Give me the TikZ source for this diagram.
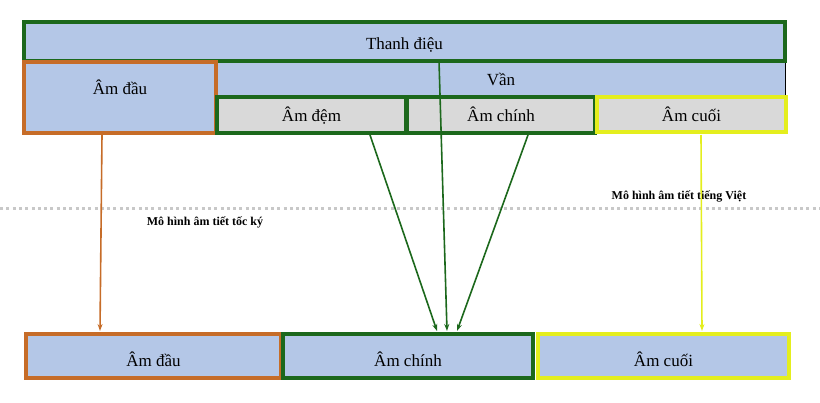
\documentclass[tikz,border=0pt]{standalone}
\usepackage{fontspec}
\setmainfont{Liberation Serif}
\usetikzlibrary{arrows.meta}
\definecolor{boxblue}{RGB}{180,199,231}
\definecolor{boxgrey}{RGB}{217,217,217}
\definecolor{dgreen}{RGB}{28,104,28}
\definecolor{orng}{RGB}{198,108,40}
\definecolor{yel}{RGB}{228,238,30}
\definecolor{dotgrey}{RGB}{200,200,200}
\tikzset{
  cell/.style={rectangle, inner sep=0pt, font=\fontsize{17}{20}\selectfont, line width=3.2pt},
  greenbox/.style={cell, draw=dgreen},
  orangebox/.style={cell, draw=orng},
  yellowbox/.style={cell, draw=yel},
  toprow/.style={text height=16pt, text depth=3pt},
  botrow/.style={text height=21pt, text depth=0pt},
  conn/.style={line width=1.6pt, -{Stealth[length=7pt,width=5pt]}},
  caption/.style={font=\bfseries\fontsize{12}{14}\selectfont, inner sep=0pt}
}
\begin{document}
\begin{tikzpicture}[x=1pt,y=-1pt]
\useasboundingbox (0,0) rectangle (820,402);
% Van region
\fill[boxblue] (216,61) rectangle (785,133);
\draw[black, line width=0.8pt] (785,61) -- (785,133);
\node[cell, anchor=base] (van) at (501,85) {Vần};
% top row
\node[greenbox, fill=boxblue, minimum width=761pt, minimum height=39pt, text height=17pt, text depth=1.5pt] (thanh) at (404.5,41.5) {Thanh điệu};
\node[orangebox, fill=boxblue, minimum width=192pt, minimum height=71pt] (dau1) at (120,97.5) {};
\node[cell, anchor=base] (dau1t) at (120,94.3) {Âm đầu};
\node[greenbox, fill=boxgrey, minimum width=189pt, minimum height=36pt, toprow] (dem) at (311.5,115) {Âm đệm};
\node[greenbox, fill=boxgrey, minimum width=188pt, minimum height=36pt, toprow] (chinh1) at (501,115) {Âm chính};
\node[yellowbox, fill=boxgrey, minimum width=189pt, minimum height=35pt, toprow] (cuoi1) at (691.5,114.5) {Âm cuối};
% dotted separator
\coordinate (sepL) at (0,208);
\coordinate (sepR) at (820,208);
\draw[dotgrey, line width=3pt, dash pattern=on 3pt off 3.3pt] (sepL) -- (sepR);
\node[caption] (cap1) at (205,222) {Mô hình âm tiết tốc ký};
\node[caption] (cap2) at (679,196) {Mô hình âm tiết tiếng Việt};
% bottom row
\node[orangebox, fill=boxblue, minimum width=255pt, minimum height=44pt, botrow] (dau2) at (153.5,356) {Âm đầu};
\node[greenbox, fill=boxblue, minimum width=250pt, minimum height=44pt, botrow] (chinh2) at (408,356) {Âm chính};
\node[yellowbox, fill=boxblue, minimum width=251pt, minimum height=44pt, botrow] (cuoi2) at (663.5,356) {Âm cuối};
% connectors
\coordinate (a1) at (102,135);
\coordinate (b1) at (100,331);
\draw[conn, orng] (a1) -- (b1);
\coordinate (a2) at (370,135);
\coordinate (b2) at (437,331);
\draw[conn, dgreen] (a2) -- (b2);
\coordinate (a3) at (439,61);
\coordinate (b3) at (447,331);
\draw[conn, dgreen] (a3) -- (b3);
\coordinate (a4) at (528,135);
\coordinate (b4) at (457,331);
\draw[conn, dgreen] (a4) -- (b4);
\coordinate (a5) at (701,135);
\coordinate (b5) at (702,331);
\draw[conn, yel] (a5) -- (b5);
\end{tikzpicture}
\end{document}
